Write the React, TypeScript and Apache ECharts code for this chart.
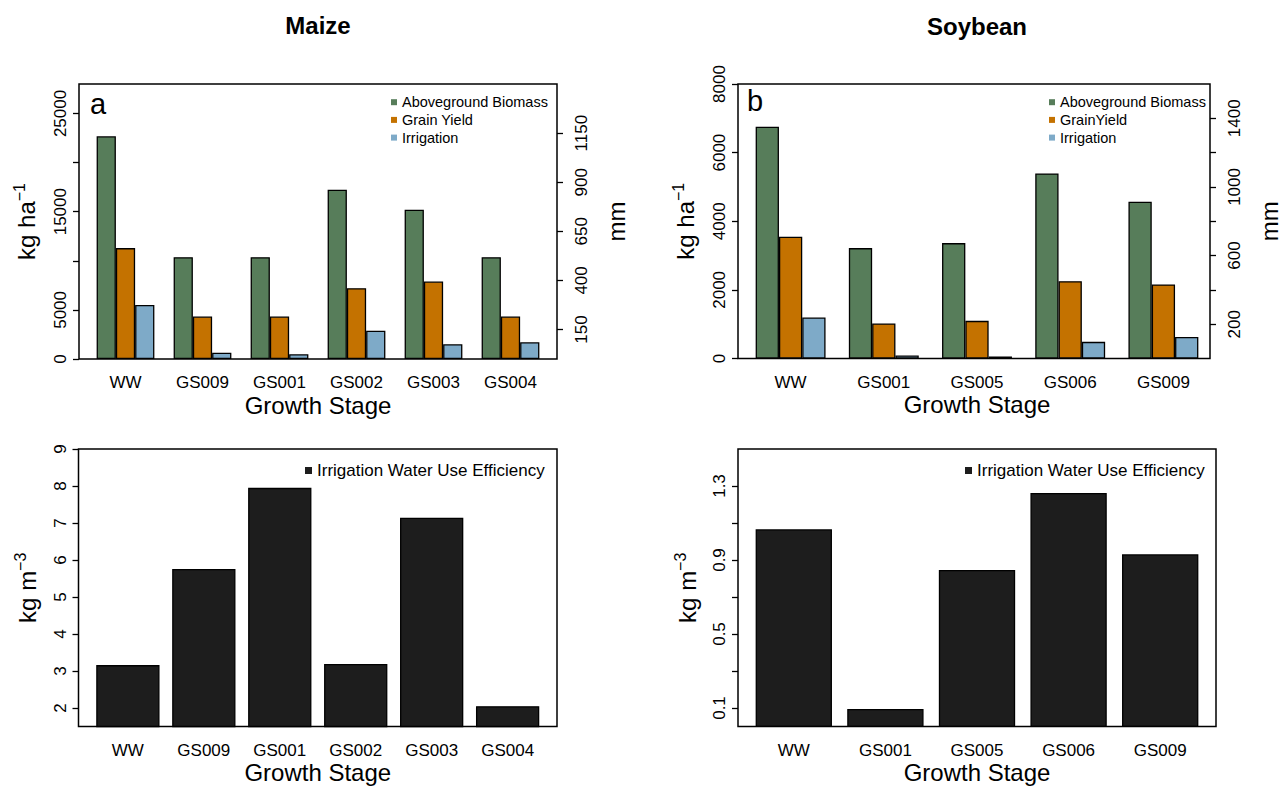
import React, { useEffect, useRef } from 'react';
import * as echarts from 'echarts';

// ---------- data ----------
const maizeStages = ['WW', 'GS009', 'GS001', 'GS002', 'GS003', 'GS004'];
const maizeBiomass = [22680, 10370, 10370, 17245, 15200, 10370];
const maizeGrain = [11290, 4320, 4320, 7210, 7890, 4320];
const maizeIrrigation = [275, 32, 24, 144, 75, 85];
const maizeIWUE = [3.16, 5.76, 7.95, 3.19, 7.14, 2.05];

const soyStages = ['WW', 'GS001', 'GS005', 'GS006', 'GS009'];
const soyBiomass = [6755, 3217, 3363, 5395, 4567];
const soyGrain = [3547, 1021, 1097, 2254, 2158];
const soyIrrigation = [239, 17.5, 11.7, 97, 126];
const soyIWUE = [1.066, 0.095, 0.846, 1.262, 0.931];

const maizeKgTicks = [0, 5000, 10000, 15000, 20000, 25000];
const maizeKgLabels = [0, 5000, 15000, 25000];
const maizeMmTicks = [150, 400, 650, 900, 1150];
const soyKgTicks = [0, 2000, 4000, 6000, 8000];
const soyMmTicks = [200, 400, 600, 800, 1000, 1200, 1400];
const soyMmLabels = [200, 600, 1000, 1400];
const maizeIWUETicks = [2, 3, 4, 5, 6, 7, 8, 9];
const soyIWUETicks = [0.1, 0.3, 0.5, 0.7, 0.9, 1.1, 1.3];
const soyIWUELabels = [0.1, 0.5, 0.9, 1.3];

// ---------- style ----------
const FONT = 'Liberation Sans, Arial, Helvetica, sans-serif';
const GREEN = '#577d5a';
const ORANGE = '#c47200';
const BLUE = '#7eaac8';
const DARK = '#1d1d1d';

type Box = { l: number; t: number; r: number; b: number };
const boxTL: Box = { l: 79, t: 84, r: 557, b: 359 };
const boxTR: Box = { l: 738, t: 84, r: 1216, b: 358.5 };
const boxBL: Box = { l: 78.5, t: 449, r: 557, b: 726.5 };
const boxBR: Box = { l: 738, t: 449, r: 1216, b: 726.5 };

function frameGrid(b: Box) {
  return {
    left: b.l, top: b.t, width: b.r - b.l, height: b.b - b.t,
    show: true, borderColor: '#000', borderWidth: 1.5, backgroundColor: 'transparent',
  };
}
function innerGrid(b: Box, inset: number) {
  return { left: b.l + inset, top: b.t, width: b.r - b.l - 2 * inset, height: b.b - b.t, show: false };
}

const tickStyle = { color: '#000', width: 1.3 };
const plain = (v: number) => String(Math.round(v * 1000) / 1000);

function frameY(gridIndex: number, min: number, max: number, ticks: number[], labels: number[],
  position: 'left' | 'right', name: string, nameGap: number, margin: number) {
  return {
    type: 'value', gridIndex, min, max, position,
    axisLine: { show: false },
    splitLine: { show: false },
    axisTick: { show: true, customValues: ticks, length: 6, lineStyle: tickStyle },
    axisLabel: {
      show: true, customValues: labels, rotate: 90, fontSize: 17, color: '#000',
      fontFamily: FONT, margin, formatter: plain,
    },
    name, nameLocation: 'middle', nameRotate: 90, nameGap,
    nameTextStyle: {
      color: '#000', fontFamily: FONT, fontSize: 24,
      rich: {
        m: { fontSize: 24, fontFamily: FONT, color: '#000', lineHeight: 30 },
        s: { fontSize: 16, fontFamily: FONT, color: '#000', lineHeight: 16, verticalAlign: 'top' },
      },
    },
  };
}
function hiddenY(gridIndex: number, min: number, max: number) {
  return { type: 'value', gridIndex, min, max, show: false, splitLine: { show: false } };
}
function hiddenX(gridIndex: number) {
  return { type: 'value', gridIndex, show: false, splitLine: { show: false } };
}
function catX(gridIndex: number, data: string[]) {
  return {
    type: 'category', gridIndex, data,
    axisLine: { show: false }, axisTick: { show: false },
    axisLabel: { interval: 0, fontSize: 17, color: '#000', fontFamily: FONT, margin: 15 },
    name: 'Growth Stage', nameLocation: 'middle', nameGap: 34,
    nameTextStyle: { fontSize: 24, color: '#000', fontFamily: FONT },
  };
}
function bar(name: string, data: number[], color: string, xi: number, yi: number, width: string) {
  return {
    type: 'bar', name, data, xAxisIndex: xi, yAxisIndex: yi,
    barWidth: width, barGap: '0%',
    itemStyle: { color, borderColor: '#000', borderWidth: 1.3 },
    emphasis: { disabled: true },
  };
}
function legend(left: number, top: number, names: string[], size: number, font: number, gap: number) {
  return {
    left, top, orient: 'vertical', data: names, padding: 0,
    itemWidth: size, itemHeight: size, itemGap: gap, icon: 'rect',
    itemStyle: { borderWidth: 0 },
    textStyle: { fontSize: font, lineHeight: font, color: '#000', fontFamily: FONT },
    selectedMode: false,
  };
}

const kgName = '{m|kg ha}{s|\u22121}';
const m3Name = '{m|kg m}{s|\u22123}';

export default function App() {
  const ref = useRef<HTMLDivElement>(null);
  useEffect(() => {
    if (!ref.current) return;
    const chart = echarts.init(ref.current, undefined, { renderer: 'svg' });
    const option: any = {
      animation: false,
      backgroundColor: '#fff',
      textStyle: { fontFamily: FONT },
      title: [
        { text: 'Maize', left: 318, top: 13, textAlign: 'center', padding: 0,
          textStyle: { fontSize: 24, fontWeight: 'bold', color: '#000', fontFamily: FONT } },
        { text: 'Soybean', left: 977, top: 14, textAlign: 'center', padding: 0,
          textStyle: { fontSize: 24, fontWeight: 'bold', color: '#000', fontFamily: FONT } },
        { text: 'a', left: 90, top: 89, padding: 0,
          textStyle: { fontSize: 29, fontWeight: 'normal', color: '#000', fontFamily: FONT } },
        { text: 'b', left: 747, top: 86, padding: 0,
          textStyle: { fontSize: 29, fontWeight: 'normal', color: '#000', fontFamily: FONT } },
      ],
      legend: [
        legend(391, 94.7, ['Aboveground Biomass', 'Grain Yield', 'Irrigation'], 6, 14.5, 2.7),
        legend(1049, 94.7, ['Aboveground Biomass', 'GrainYield', 'Irrigation'], 6, 14.5, 2.7),
        legend(305, 462, ['Irrigation Water Use Efficiency'], 7, 17, 0),
        legend(965, 462, ['Irrigation Water Use Efficiency'], 7, 17, 0),
      ],
      grid: [
        frameGrid(boxTL), innerGrid(boxTL, 8),
        frameGrid(boxTR), innerGrid(boxTR, 6),
        frameGrid(boxBL), innerGrid(boxBL, 11.4),
        frameGrid(boxBR), innerGrid(boxBR, 10),
      ],
      xAxis: [
        hiddenX(0), catX(1, maizeStages),
        hiddenX(2), catX(3, soyStages),
        hiddenX(4), catX(5, maizeStages),
        hiddenX(6), catX(7, soyStages),
      ],
      yAxis: [
        frameY(0, 0, 28000, maizeKgTicks, maizeKgLabels, 'left', kgName, 38, 10), // 0
        frameY(0, 0, 1400, maizeMmTicks, maizeMmTicks, 'right', '{m|mm}', 44, 16), // 1
        hiddenY(1, 0, 28000), // 2
        hiddenY(1, 0, 1400), // 3
        frameY(2, 0, 8000, soyKgTicks, soyKgTicks, 'left', kgName, 38, 10), // 4
        frameY(2, 0, 1600, soyMmTicks, soyMmLabels, 'right', '{m|mm}', 44, 16), // 5
        hiddenY(3, 0, 8000), // 6
        hiddenY(3, 0, 1600), // 7
        frameY(4, 1.5, 9, maizeIWUETicks, maizeIWUETicks, 'left', m3Name, 36, 10), // 8
        hiddenY(5, 1.5, 9), // 9
        frameY(6, 0, 1.5, soyIWUETicks, soyIWUELabels, 'left', m3Name, 36, 10), // 10
        hiddenY(7, 0, 1.5), // 11
      ],
      series: [
        bar('Aboveground Biomass', maizeBiomass, GREEN, 1, 2, '25%'),
        bar('Grain Yield', maizeGrain, ORANGE, 1, 2, '25%'),
        bar('Irrigation', maizeIrrigation, BLUE, 1, 3, '25%'),
        bar('Aboveground Biomass', soyBiomass, GREEN, 3, 6, '25%'),
        bar('GrainYield', soyGrain, ORANGE, 3, 6, '25%'),
        bar('Irrigation', soyIrrigation, BLUE, 3, 7, '25%'),
        bar('Irrigation Water Use Efficiency', maizeIWUE, DARK, 5, 9, '83.33%'),
        bar('Irrigation Water Use Efficiency', soyIWUE, DARK, 7, 11, '83.33%'),
      ],
    };
    chart.setOption(option);
    return () => chart.dispose();
  }, []);
  return (
    <div
      ref={ref}
      style={{ position: 'fixed', left: 0, top: 0, width: 1282, height: 787, background: '#fff' }}
    />
  );
}
